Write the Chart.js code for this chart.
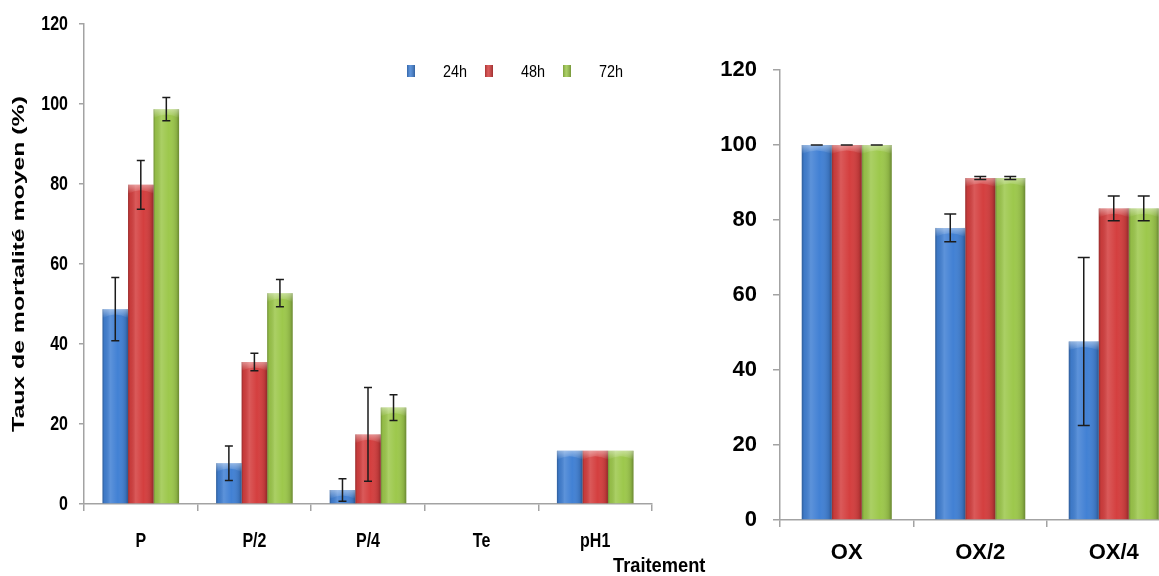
<!DOCTYPE html>
<html>
<head>
<meta charset="utf-8">
<script src="https://cdn.jsdelivr.net/npm/chart.js@4.4.1/dist/chart.umd.min.js"></script>
<style>
  html, body { margin: 0; padding: 0; background: #fff; width: 1159px; height: 576px; overflow: hidden; position: relative; }
  #left  { position: absolute; left: 0;     top: 0; width: 740px; height: 576px; }
  #right { position: absolute; left: 690px; top: 0; width: 510px; height: 576px; }
</style>
</head>
<body>
<canvas id="left" width="740" height="576"></canvas>
<canvas id="right" width="510" height="576"></canvas>
<script>
// ---- Data: mean mortality (%) by treatment and exposure time ----
const seriesLabels = ['24h', '48h', '72h'];
const yTicks = [0, 20, 40, 60, 80, 100, 120];

const categoriesLeft = ['P', 'P/2', 'P/4', 'Te', 'pH1'];
const mort24Left = [48.7, 10.2, 3.5, 0, 13.3];
const mort48Left = [79.8, 35.5, 17.4, 0, 13.3];
const mort72Left = [98.7, 52.7, 24.1, 0, 13.3];
const err24Left = [7.9, 4.3, 2.8, null, null];
const err48Left = [6.1, 2.2, 11.7, null, null];
const err72Left = [2.9, 3.4, 3.2, null, null];

const categoriesRight = ['OX', 'OX/2', 'OX/4'];
const mort24Right = [100, 77.9, 47.6];
const mort48Right = [100, 91.2, 83.1];
const mort72Right = [100, 91.2, 83.1];
const err24Right = [0, 3.7, 22.4];
const err48Right = [0, 0.4, 3.3];
const err72Right = [0, 0.4, 3.3];

const seriesColors = ['#4281D4', '#D43F3F', '#9DC84C'];
const axisColor = '#a3a3a3';
const sans = "'Liberation Sans', Arial, sans-serif";

// Draws text squeezed horizontally (narrow face look)
function drawNarrow(ctx, text, x, y, font, sx, align, baseline) {
  ctx.save();
  ctx.translate(x, y);
  ctx.scale(sx, 1);
  ctx.font = font;
  ctx.fillStyle = '#000';
  ctx.textAlign = align;
  ctx.textBaseline = baseline;
  ctx.fillText(text, 0, 0);
  ctx.restore();
}

// Cylinder-like shading, top bevel and error bars drawn over each bar
const barStyling = {
  id: 'barStyling',
  afterDatasetsDraw(chart, args, opts) {
    const ctx = chart.ctx;
    const yScale = chart.scales.y;
    chart.data.datasets.forEach((ds, di) => {
      const meta = chart.getDatasetMeta(di);
      meta.data.forEach((el, i) => {
        const p = el.getProps(['x', 'y', 'base', 'width'], true);
        const left = p.x - p.width / 2;
        const top = Math.min(p.y, p.base);
        const h = Math.abs(p.base - p.y);
        if (h > 0.5) {
          ctx.save();
          const g = ctx.createLinearGradient(left, 0, left + p.width, 0);
          g.addColorStop(0, 'rgba(0,0,0,0.28)');
          g.addColorStop(0.08, 'rgba(0,0,0,0.06)');
          g.addColorStop(0.3, 'rgba(255,255,255,0.14)');
          g.addColorStop(0.6, 'rgba(255,255,255,0)');
          g.addColorStop(0.9, 'rgba(0,0,0,0.12)');
          g.addColorStop(1, 'rgba(0,0,0,0.32)');
          ctx.fillStyle = g;
          ctx.fillRect(left, top, p.width, h);
          const bh = Math.min(9, h);
          const g2 = ctx.createLinearGradient(0, top, 0, top + bh);
          g2.addColorStop(0, 'rgba(255,255,255,0.42)');
          g2.addColorStop(1, 'rgba(255,255,255,0)');
          ctx.fillStyle = g2;
          ctx.beginPath();
          ctx.moveTo(left, top);
          ctx.lineTo(left + p.width, top);
          ctx.lineTo(left + p.width, top + bh);
          ctx.quadraticCurveTo(p.x, top + bh * 0.2, left, top + bh);
          ctx.closePath();
          ctx.fill();
          ctx.restore();
        }
        const e = ds.errorBars ? ds.errorBars[i] : null;
        if (e === null || e === undefined) return;
        const v = ds.data[i];
        const yHi = yScale.getPixelForValue(v + e);
        const yLo = yScale.getPixelForValue(v - e);
        const cw = opts.capWidth / 2;
        ctx.save();
        ctx.strokeStyle = '#1c1c1c';
        ctx.lineWidth = 1.5;
        ctx.beginPath();
        ctx.moveTo(p.x, yHi); ctx.lineTo(p.x, yLo);
        ctx.moveTo(p.x - cw, yHi); ctx.lineTo(p.x + cw, yHi);
        ctx.moveTo(p.x - cw, yLo); ctx.lineTo(p.x + cw, yLo);
        ctx.stroke();
        ctx.restore();
      });
    });
  }
};

// Narrow tick labels, legend, rotated y-axis title and x-axis title for the left panel
const leftDecor = {
  id: 'leftDecor',
  afterDraw(chart) {
    const ctx = chart.ctx;
    const ca = chart.chartArea;
    const xs = chart.scales.x;
    const ys = chart.scales.y;
    ctx.save();
    // tick labels
    xs.ticks.forEach((t, i) => {
      drawNarrow(ctx, String(xs.getLabelForValue(t.value)), xs.getPixelForTick(i), ca.bottom + 37,
        'bold 20px ' + sans, 0.8, 'center', 'middle');
    });
    ys.ticks.forEach((t, i) => {
      drawNarrow(ctx, String(t.value), ca.left - 16, ys.getPixelForTick(i),
        'bold 20px ' + sans, 0.8, 'right', 'middle');
    });
    // legend
    chart.data.datasets.forEach((ds, i) => {
      const mx = ca.left + 323 + i * 78;
      const g = ctx.createLinearGradient(mx, 0, mx + 8, 0);
      g.addColorStop(0, 'rgba(0,0,0,0.2)');
      g.addColorStop(0.4, 'rgba(255,255,255,0.15)');
      g.addColorStop(1, 'rgba(0,0,0,0.25)');
      ctx.fillStyle = ds.backgroundColor;
      ctx.fillRect(mx, 65, 8, 12);
      ctx.fillStyle = g;
      ctx.fillRect(mx, 65, 8, 12);
      drawNarrow(ctx, ds.label, mx + 36, 77, '17px ' + sans, 0.85, 'left', 'alphabetic');
    });
    // y-axis title
    ctx.save();
    ctx.translate(20, (ca.top + ca.bottom) / 2);
    ctx.rotate(-Math.PI / 2);
    ctx.scale(1.55, 1);
    ctx.font = 'bold 16px ' + sans;
    ctx.fillStyle = '#000';
    ctx.textAlign = 'center';
    ctx.textBaseline = 'middle';
    ctx.fillText('Taux de mortalité moyen (%)', 0, 0);
    ctx.restore();
    // x-axis title
    drawNarrow(ctx, 'Traitement', ca.right - 39, 572, 'bold 21px ' + sans, 0.87, 'left', 'alphabetic');
    ctx.restore();
  }
};

function makeDatasets(v24, v48, v72, e24, e48, e72) {
  const vals = [v24, v48, v72];
  const errs = [e24, e48, e72];
  return seriesLabels.map((lab, i) => ({
    label: lab,
    data: vals[i],
    errorBars: errs[i],
    backgroundColor: seriesColors[i],
    borderWidth: 0,
    categoryPercentage: 0.674,
    barPercentage: 1
  }));
}

function makeOptions(cfg) {
  return {
    responsive: false,
    animation: false,
    events: [],
    layout: { padding: cfg.padding },
    plugins: {
      legend: { display: false },
      tooltip: { enabled: false },
      barStyling: { capWidth: cfg.capWidth }
    },
    scales: {
      x: {
        offset: true,
        grid: { display: true, offset: true, drawOnChartArea: false, drawTicks: true, tickLength: 7, color: axisColor, lineWidth: 1.5 },
        border: { display: true, color: axisColor, width: 1.5 },
        ticks: { display: cfg.showTicks, color: '#000', font: cfg.xFont, padding: cfg.xPad, maxRotation: 0, autoSkip: false },
        afterFit(scale) { scale.height = cfg.xHeight; }
      },
      y: {
        min: 0, max: 120,
        afterBuildTicks(scale) { scale.ticks = yTicks.map(v => ({ value: v })); },
        grid: { display: true, drawOnChartArea: false, drawTicks: true, tickLength: cfg.yTickLen, color: axisColor, lineWidth: 1.5 },
        border: { display: true, color: axisColor, width: 1.5 },
        ticks: { display: cfg.showTicks, color: '#000', font: cfg.yFont, padding: cfg.yPad },
        afterFit(scale) { scale.width = cfg.yWidth; }
      }
    }
  };
}

new Chart(document.getElementById('left'), {
  type: 'bar',
  data: {
    labels: categoriesLeft,
    datasets: makeDatasets(mort24Left, mort48Left, mort72Left, err24Left, err48Left, err72Left)
  },
  options: makeOptions({
    padding: { top: 24, left: 0, right: 88, bottom: 0 },
    capWidth: 8,
    showTicks: false,
    xFont: { family: sans, size: 18, weight: 'bold' },
    yFont: { family: sans, size: 18, weight: 'bold' },
    xPad: 18, yPad: 11, yTickLen: 5,
    xHeight: 72, yWidth: 84
  }),
  plugins: [barStyling, leftDecor]
});

new Chart(document.getElementById('right'), {
  type: 'bar',
  data: {
    labels: categoriesRight,
    datasets: makeDatasets(mort24Right, mort48Right, mort72Right, err24Right, err48Right, err72Right)
  },
  options: makeOptions({
    padding: { top: 70, left: 0, right: 19.5, bottom: 0 },
    capWidth: 12,
    showTicks: true,
    xFont: { family: sans, size: 22, weight: 'bold' },
    yFont: { family: sans, size: 22, weight: 'bold' },
    xPad: 13, yPad: 16, yTickLen: 7,
    xHeight: 56, yWidth: 90
  }),
  plugins: [barStyling]
});
</script>
</body>
</html>
